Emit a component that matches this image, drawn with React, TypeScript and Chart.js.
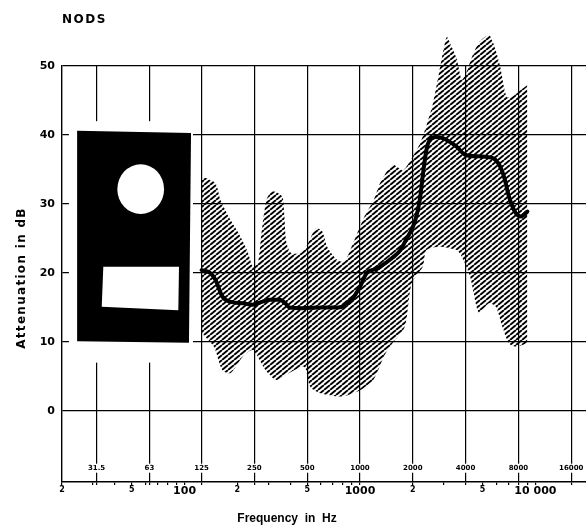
import React, { useEffect, useRef } from 'react';
import { Chart, registerables } from 'chart.js';

Chart.register(...registerables);

// ---- text ----
const CHART_TITLE = 'NODS';
const Y_TITLE = 'Attenuation in dB';
const X_TITLE = 'Frequency  in  Hz';

// ---- axes ----
const yTickValues = [0, 10, 20, 30, 40, 50];
const octaveFreqs = [31.5, 63, 125, 250, 500, 1000, 2000, 4000, 8000, 16000];
const octaveLabels = ['31.5', '63', '125', '250', '500', '1000', '2000', '4000', '8000', '16000'];
const freqTickValues = [20, 50, 100, 200, 500, 1000, 2000, 5000, 10000];
const freqTickLabels = ['2', '5', '100', '2', '5', '1000', '2', '5', '10 000'];
const freqMinorTicks = [30, 40, 60, 70, 80, 90, 300, 400, 600, 700, 800, 900, 3000, 4000, 6000, 7000, 8000, 9000];

// ---- data: mean attenuation ----
const meanFreq = [125, 140, 150, 164, 183, 215, 245, 275, 304, 348, 375, 395, 470, 600, 751, 894, 1000, 1092, 1200, 1300, 1530, 1700, 1847, 1990, 2100, 2190, 2300, 2400, 2500, 2700, 2980, 3300, 3560, 4000, 4765, 5760, 6300, 6700, 7060, 7720, 8270, 9000];
const meanDb = [20.4, 20.0, 19.0, 16.6, 15.8, 15.6, 15.4, 15.8, 16.1, 16.1, 15.6, 15.0, 14.9, 15.0, 15.0, 16.1, 18.0, 20.0, 20.5, 20.9, 22.2, 23.3, 25.0, 26.5, 28.3, 30.5, 34.9, 38.0, 39.3, 39.7, 39.5, 38.9, 38.3, 37.1, 36.9, 36.6, 35.4, 33.5, 31.1, 28.7, 28.2, 28.9];

// ---- data: spread band (upper / lower limits) ----
const upperFreq = [125, 130, 150, 160, 178, 203, 227, 245, 262, 275, 293, 313, 340, 362, 370, 380, 405, 460, 510, 560, 610, 650, 740, 810, 866, 930, 1060, 1200, 1300, 1530, 1760, 2000, 2200, 2400, 2600, 2840, 3000, 3130, 3300, 3560, 3800, 4000, 4350, 4800, 5440, 5900, 6300, 6850, 7400, 8200, 9000];
const upperDb = [33.5, 33.8, 33.0, 30.6, 28.2, 25.8, 23.3, 21.0, 21.5, 26.0, 30.6, 31.8, 31.6, 31.0, 28.5, 24.5, 22.9, 22.9, 24.5, 26.5, 26.0, 23.8, 21.9, 21.6, 22.9, 24.8, 28.2, 30.6, 33.0, 35.7, 34.9, 36.9, 38.8, 41.5, 44.5, 49.4, 52.5, 54.2, 53.0, 51.0, 48.0, 48.8, 51.3, 53.5, 54.5, 52.5, 49.9, 45.5, 45.6, 46.5, 47.2];
const lowerFreq = [125, 147, 164, 183, 215, 245, 290, 333, 395, 480, 520, 590, 785, 1000, 1190, 1370, 1530, 1800, 1970, 2280, 2390, 2840, 3560, 3800, 4240, 4770, 5430, 5950, 6480, 7060, 7720, 9000];
const lowerDb = [11.3, 9.3, 5.9, 5.5, 7.9, 8.8, 5.9, 4.5, 5.5, 6.4, 3.5, 2.6, 2.1, 3.0, 4.5, 7.9, 9.8, 12.2, 18.5, 20.9, 23.3, 23.8, 23.3, 22.4, 19.5, 14.2, 15.6, 15.1, 12.2, 9.8, 9.3, 9.8];

const zip = (xs: number[], ys: number[]) => xs.map((x, i) => ({ x, y: ys[i] }));

function makeHatch(ctx: CanvasRenderingContext2D) {
  const p = 6, h = 5;
  const tile = document.createElement('canvas');
  tile.width = p;
  tile.height = h;
  const t = tile.getContext('2d')!;
  t.strokeStyle = '#000';
  t.lineWidth = 1.9;
  for (let m = 0; m <= 2; m++) {
    t.beginPath();
    t.moveTo(m * p, 0);
    t.lineTo(m * p - p, h);
    t.stroke();
  }
  return ctx.createPattern(tile, 'repeat');
}

const FONT = 'DejaVu Sans';

const decorPlugin = {
  id: 'decor',
  beforeDatasetsDraw(chart: any) {
    const { ctx, chartArea: a, scales } = chart;
    const X = (f: number) => scales.x.getPixelForValue(f);
    const Y = (d: number) => scales.y.getPixelForValue(d);
    ctx.save();
    // nothing of the grid above the top line (50 dB)
    const yTop = Y(yTickValues[yTickValues.length - 1]);
    ctx.fillStyle = '#fff';
    ctx.fillRect(a.left - 3, a.top - 2, a.right - a.left + 6, yTop - 1 - (a.top - 2));

    // inset picture of the device
    ctx.fillRect(X(21.9), Y(42.0), X(111.6) - X(21.9), Y(7.0) - Y(42.0));
    ctx.fillStyle = '#000';
    const box = [[24.4, 40.6], [108.8, 40.3], [105.9, 9.9], [24.4, 10.1]];
    ctx.beginPath();
    box.forEach(([f, d], i) => (i ? ctx.lineTo(X(f), Y(d)) : ctx.moveTo(X(f), Y(d))));
    ctx.closePath();
    ctx.fill();
    ctx.fillStyle = '#fff';
    const cx = X(56.2), cy = Y(32.15);
    const rx = (X(76.3) - X(41.3)) / 2, ry = (Y(28.55) - Y(35.75)) / 2;
    ctx.beginPath();
    ctx.ellipse(cx, cy, rx, ry, 0, 0, Math.PI * 2);
    ctx.fill();
    const rect = [[34.4, 20.9], [92.9, 20.9], [92.1, 14.6], [33.7, 15.1]];
    ctx.beginPath();
    rect.forEach(([f, d], i) => (i ? ctx.lineTo(X(f), Y(d)) : ctx.moveTo(X(f), Y(d))));
    ctx.closePath();
    ctx.fill();

    // octave band labels inside the plot
    ctx.font = `bold 7px "${FONT}"`;
    ctx.textAlign = 'center';
    ctx.textBaseline = 'middle';
    const ly = Y(-8.3);
    octaveFreqs.forEach((f, i) => {
      const w = ctx.measureText(octaveLabels[i]).width;
      ctx.fillStyle = '#fff';
      ctx.fillRect(X(f) - w / 2 - 1, ly - 4.5, w + 2, 9);
      ctx.fillStyle = '#000';
      ctx.fillText(octaveLabels[i], X(f), ly);
    });
    ctx.restore();
  },
  afterDraw(chart: any) {
    const { ctx, chartArea: a } = chart;
    ctx.save();
    ctx.fillStyle = '#000';
    ctx.textBaseline = 'middle';
    // chart title
    ctx.font = `bold 12px "${FONT}"`;
    (ctx as any).letterSpacing = '1.5px';
    ctx.textAlign = 'left';
    ctx.fillText(CHART_TITLE, a.left, 20);
    // y title
    (ctx as any).letterSpacing = '1.3px';
    ctx.textAlign = 'center';
    ctx.save();
    ctx.translate(22, 278);
    ctx.rotate(-Math.PI / 2);
    ctx.font = `bold 12px "${FONT}"`;
    ctx.fillText(Y_TITLE, 0, 0);
    ctx.restore();
    // x title
    (ctx as any).letterSpacing = '0px';
    ctx.font = 'bold 12px "Liberation Sans"';
    ctx.fillText(X_TITLE, 287, 519);
    ctx.restore();
  },
};

export default function App() {
  const ref = useRef<HTMLCanvasElement>(null);
  useEffect(() => {
    document.body.style.margin = '0';
    const canvas = ref.current!;
    const hatch = makeHatch(canvas.getContext('2d')!);
    const allFreqTicks = Array.from(new Set([...freqTickValues, ...freqMinorTicks, ...octaveFreqs])).sort((a, b) => a - b);
    const chart = new Chart(canvas, {
      type: 'line',
      data: {
        datasets: [
          {
            label: 'Mean attenuation',
            data: zip(meanFreq, meanDb),
            borderColor: '#000',
            borderWidth: 4,
            borderCapStyle: 'round',
            borderJoinStyle: 'round',
            pointRadius: 0,
            fill: false,
            cubicInterpolationMode: 'monotone',
          },
          {
            label: 'Upper limit',
            data: zip(upperFreq, upperDb),
            borderColor: 'rgba(0,0,0,0)',
            backgroundColor: hatch as any,
            pointRadius: 0,
            fill: '+1',
            tension: 0.25,
          },
          {
            label: 'Lower limit',
            data: zip(lowerFreq, lowerDb),
            borderColor: 'rgba(0,0,0,0)',
            pointRadius: 0,
            fill: false,
            tension: 0.25,
          },
        ],
      },
      options: {
        responsive: false,
        animation: false,
        devicePixelRatio: 1,
        layout: { padding: { top: 31.5, left: 0, right: 0, bottom: 0 } },
        plugins: { legend: { display: false }, tooltip: { enabled: false }, title: { display: false } },
        scales: {
          x: {
            type: 'logarithmic',
            min: 20,
            max: 19430,
            afterBuildTicks: (scale: any) => {
              scale.ticks = allFreqTicks.map((v) => ({ value: v }));
            },
            afterFit: (scale: any) => {
              scale.height = 49;
            },
            ticks: {
              autoSkip: false,
              maxRotation: 0,
              padding: 0,
              color: '#000',
              callback: (value: any) => {
                const i = freqTickValues.indexOf(Number(value));
                return i >= 0 ? freqTickLabels[i] : '';
              },
              font: (c: any) => {
                const v = c.tick ? c.tick.value : 0;
                const big = v === 100 || v === 1000 || v === 10000;
                return { family: FONT, weight: 'bold', size: big ? 11 : 8 };
              },
            },
            grid: {
              color: (c: any) => (c.tick && octaveFreqs.includes(c.tick.value) ? '#000' : 'rgba(0,0,0,0)'),
              lineWidth: 1.2,
              tickColor: '#000',
              tickLength: 3,
              tickWidth: 1.2,
            },
            border: { display: true, color: '#000', width: 1.4 },
          },
          y: {
            type: 'linear',
            min: -10.3,
            max: 55,
            afterBuildTicks: (scale: any) => {
              scale.ticks = yTickValues.map((v) => ({ value: v }));
            },
            afterFit: (scale: any) => {
              scale.width = 62;
            },
            ticks: {
              padding: 7,
              color: '#000',
              font: { family: FONT, weight: 'bold', size: 11 },
            },
            grid: { color: '#000', lineWidth: 1.2, drawTicks: false },
            border: { display: true, color: '#000', width: 1.4 },
          },
        },
      },
      plugins: [decorPlugin],
    } as any);
    return () => chart.destroy();
  }, []);
  return (
    <div style={{ width: 586, height: 531 }}>
      <canvas ref={ref} width={586} height={531} style={{ display: 'block' }} />
    </div>
  );
}
